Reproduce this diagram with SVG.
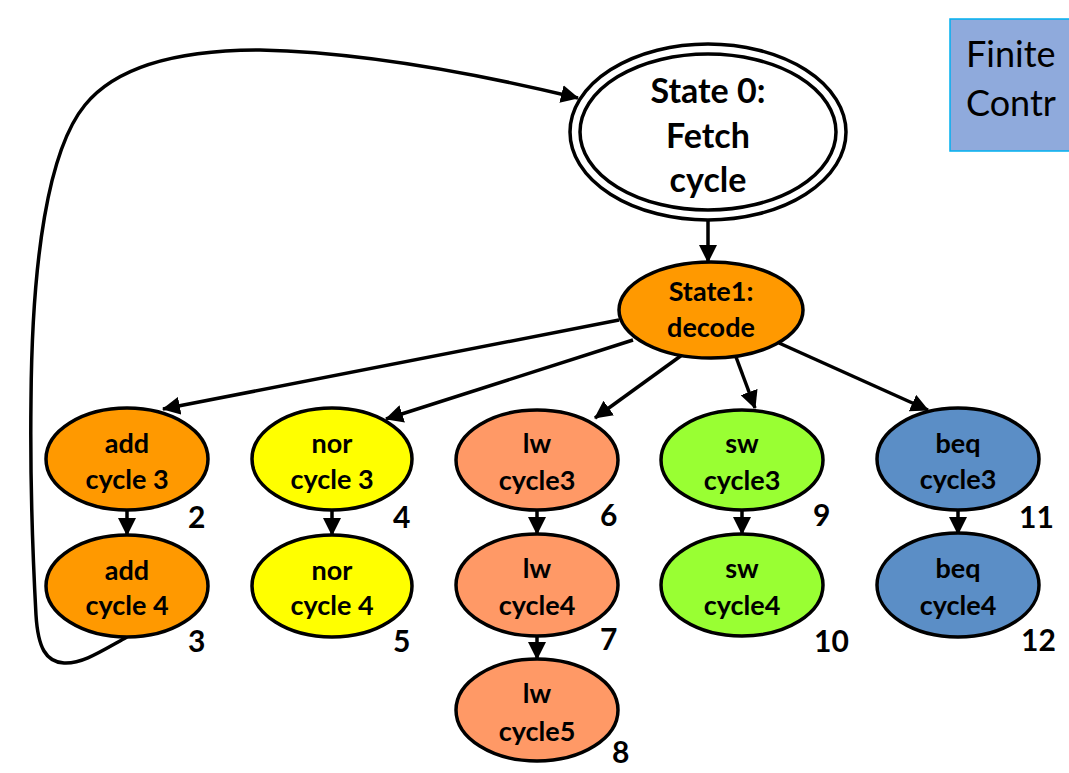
<svg xmlns="http://www.w3.org/2000/svg" width="1069" height="773" viewBox="0 0 1069 773">
<style>
.n{stroke:#000;stroke-width:3.5}
.t{font-family:Lato,"Open Sans","Liberation Sans",sans-serif;font-weight:bold;font-size:27px;text-anchor:middle;fill:#000}
.num{font-family:Lato,"Open Sans","Liberation Sans",sans-serif;font-weight:bold;font-size:30px;fill:#000}
.e{stroke:#000;stroke-width:3.5;fill:none;marker-end:url(#ah)}
.big{font-family:Lato,"Open Sans","Liberation Sans",sans-serif;font-size:36px;fill:#000}
</style>
<defs>
<marker id="ah" markerUnits="userSpaceOnUse" viewBox="0 0 18 18" refX="17" refY="9" markerWidth="18" markerHeight="18" orient="auto">
<path d="M0,0 L18,9 L0,18 Z" fill="#000"/>
</marker>
</defs>
<rect width="1069" height="773" fill="#fff"/>
<g id="fsm-box">
<rect x="950" y="19" width="130" height="132" fill="#8FAADC" stroke="#00B0F0" stroke-width="1.5"/>
<text class="big" x="966" y="67">Finite</text>
<text class="big" x="966" y="116">Contr</text>
</g>
<g id="connectors">
<path class="e" d="M127,637 C100,652 82,664 64,663 C46,662 38,648 36,615 C33,560 30,480 31,400 C32,260 48,150 85,105 C120,62 190,50 260,50 C360,52 470,72 578,98"/>
<line class="e" x1="708" y1="221" x2="708" y2="262"/>
<line class="e" x1="619" y1="320" x2="163" y2="409"/>
<line class="e" x1="633" y1="340" x2="386" y2="419"/>
<line class="e" x1="682" y1="355" x2="595" y2="418"/>
<line class="e" x1="736" y1="357" x2="755" y2="408"/>
<line class="e" x1="779" y1="343" x2="928" y2="410"/>
<line class="e" x1="127" y1="510" x2="127" y2="535"/>
<line class="e" x1="332" y1="510" x2="332" y2="535"/>
<line class="e" x1="537" y1="511" x2="537" y2="534"/>
<line class="e" x1="537" y1="636" x2="537" y2="659"/>
<line class="e" x1="742" y1="511" x2="742" y2="534"/>
<line class="e" x1="958" y1="510" x2="958" y2="534"/>
</g>
<g id="state0">
<ellipse cx="708" cy="132" rx="138" ry="88" fill="#fff" class="n"/>
<ellipse cx="708" cy="132" rx="128" ry="78" fill="#fff" class="n"/>
<text class="t" x="708" y="103" style="font-size:34px">State 0:</text>
<text class="t" x="708" y="148" style="font-size:34px">Fetch</text>
<text class="t" x="708" y="192" style="font-size:34px">cycle</text>
</g>
<g id="state1">
<ellipse cx="711" cy="310" rx="92" ry="48" fill="#FF9900" class="n"/>
<text class="t" x="711" y="301">State1:</text>
<text class="t" x="711" y="337">decode</text>
</g>
<g id="add3">
<ellipse cx="127" cy="459" rx="81" ry="51" fill="#FF9900" class="n"/>
<text class="t" x="127" y="453">add</text>
<text class="t" x="127" y="489">cycle 3</text>
<text class="num" x="188" y="528">2</text>
</g>
<g id="add4">
<ellipse cx="127" cy="586" rx="81" ry="51" fill="#FF9900" class="n"/>
<text class="t" x="127" y="580">add</text>
<text class="t" x="127" y="615">cycle 4</text>
<text class="num" x="188" y="652">3</text>
</g>
<g id="nor3">
<ellipse cx="332" cy="459" rx="80" ry="51" fill="#FFFF00" class="n"/>
<text class="t" x="332" y="453">nor</text>
<text class="t" x="332" y="489">cycle 3</text>
<text class="num" x="393" y="528">4</text>
</g>
<g id="nor4">
<ellipse cx="332" cy="586" rx="80" ry="51" fill="#FFFF00" class="n"/>
<text class="t" x="332" y="580">nor</text>
<text class="t" x="332" y="615">cycle 4</text>
<text class="num" x="393" y="652">5</text>
</g>
<g id="lw3">
<ellipse cx="537" cy="460" rx="81" ry="50" fill="#FF9966" class="n"/>
<text class="t" x="537" y="453">lw</text>
<text class="t" x="537" y="490">cycle3</text>
<text class="num" x="600" y="526">6</text>
</g>
<g id="lw4">
<ellipse cx="537" cy="585" rx="81" ry="51" fill="#FF9966" class="n"/>
<text class="t" x="537" y="578">lw</text>
<text class="t" x="537" y="615">cycle4</text>
<text class="num" x="600" y="650">7</text>
</g>
<g id="lw5">
<ellipse cx="537" cy="710" rx="81" ry="51" fill="#FF9966" class="n"/>
<text class="t" x="537" y="703">lw</text>
<text class="t" x="537" y="741">cycle5</text>
<text class="num" x="612" y="763">8</text>
</g>
<g id="sw3">
<ellipse cx="742" cy="460" rx="81" ry="50" fill="#99FF33" class="n"/>
<text class="t" x="742" y="453">sw</text>
<text class="t" x="742" y="490">cycle3</text>
<text class="num" x="813" y="526">9</text>
</g>
<g id="sw4">
<ellipse cx="742" cy="585" rx="81" ry="51" fill="#99FF33" class="n"/>
<text class="t" x="742" y="578">sw</text>
<text class="t" x="742" y="615">cycle4</text>
<text class="num" x="814" y="652">10</text>
</g>
<g id="beq3">
<ellipse cx="958" cy="459" rx="81" ry="51" fill="#5B8EC6" class="n"/>
<text class="t" x="958" y="453">beq</text>
<text class="t" x="958" y="489">cycle3</text>
<text class="num" x="1019" y="528">11</text>
</g>
<g id="beq4">
<ellipse cx="958" cy="585" rx="81" ry="52" fill="#5B8EC6" class="n"/>
<text class="t" x="958" y="578">beq</text>
<text class="t" x="958" y="615">cycle4</text>
<text class="num" x="1021" y="651">12</text>
</g>
</svg>
